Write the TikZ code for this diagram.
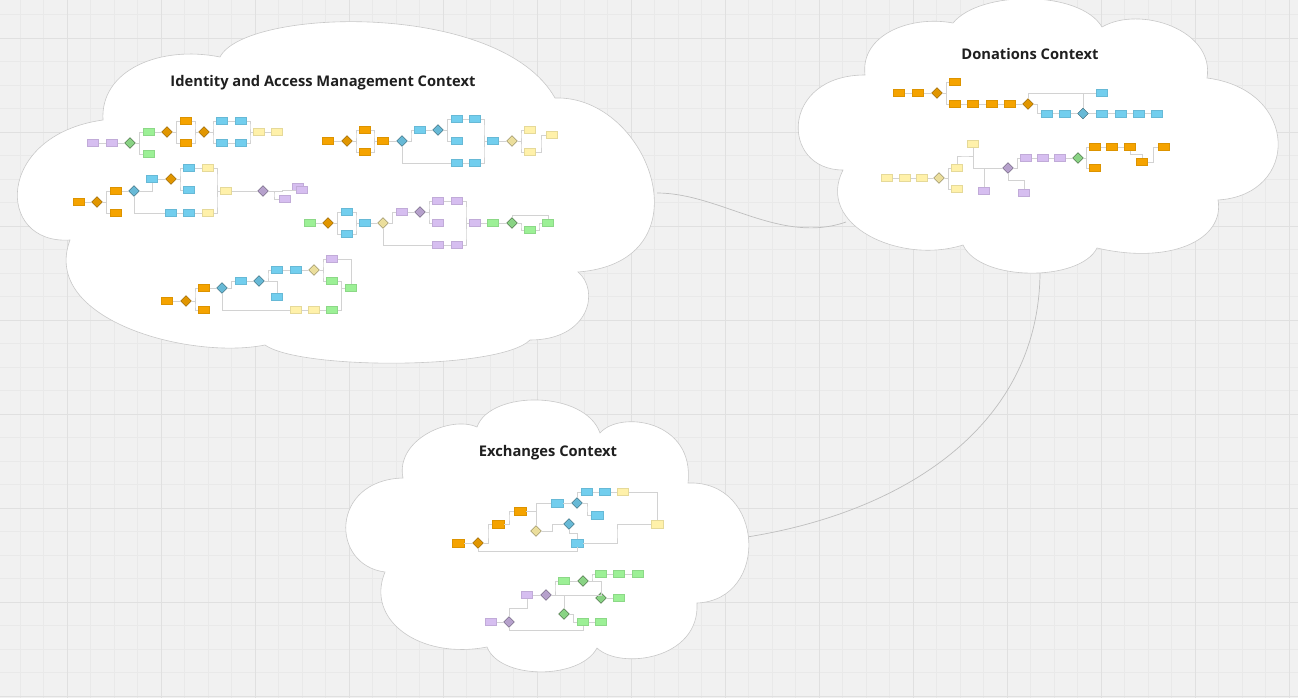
\documentclass[tikz,border=0pt]{standalone}
\usepackage{fontspec}
\setmainfont{Open Sans}
\usetikzlibrary{shapes.geometric,calc}
\definecolor{bgc}{RGB}{241,241,241}
\definecolor{minorc}{RGB}{233,233,233}
\definecolor{majorc}{RGB}{224,224,224}
\definecolor{cloudc}{RGB}{200,200,200}
\definecolor{linkc}{RGB}{190,190,190}
\definecolor{conc}{RGB}{210,210,210}
\definecolor{orgc}{RGB}{245,163,0}
\definecolor{bluc}{RGB}{114,206,238}
\definecolor{grnc}{RGB}{156,240,150}
\definecolor{purc}{RGB}{214,190,240}
\definecolor{yelc}{RGB}{255,241,170}
\tikzset{
box/.style={rectangle,minimum width=11pt,minimum height=7pt,inner sep=0pt,line width=0.3pt},
xbox/.style={minimum width=12pt,minimum height=8pt},
gate/.style={diamond,minimum size=11pt,inner sep=0pt,line width=0.4pt},
org/.style={box,fill=orgc,draw=orgc!90!black},
blu/.style={box,fill=bluc,draw=bluc!90!black},
grn/.style={box,fill=grnc,draw=grnc!90!black},
pur/.style={box,fill=purc,draw=purc!90!black},
yel/.style={box,fill=yelc,draw=yelc!90!black},
orgd/.style={gate,fill=orgc!92!black,draw=orgc!55!black},
blud/.style={gate,fill=bluc!90!black,draw=bluc!45!black},
grnd/.style={gate,fill=grnc!88!black,draw=grnc!35!black},
purd/.style={gate,fill=purc!85!black,draw=purc!45!black},
yeld/.style={gate,fill=yelc!92!black,draw=yelc!50!black},
con/.style={draw=conc,line width=0.7pt},
el/.style={to path={-| ($(\tikztostart)!0.5!(\tikztotarget)$) |- (\tikztotarget)}},
elv/.style={to path={|- ($(\tikztostart)!0.5!(\tikztotarget)$) -| (\tikztotarget)}},
ctxcloud/.style={draw=cloudc,fill=white,line width=0.6pt},
ctxtitle/.style={font=\bfseries\fontsize{14.7}{17}\selectfont,text=black!88,anchor=base},
}
\begin{document}
\begin{tikzpicture}[x=1pt,y=-1pt]
\useasboundingbox (0,0) rectangle (1298,698);
\fill[bgc] (0,0) rectangle (1298,698);
\foreach \x in {20,43.5,...,1298} \draw[minorc,line width=0.8pt] (\x,0) -- (\x,698);
\foreach \y in {14.8,38.3,...,698} \draw[minorc,line width=0.8pt] (0,\y) -- (1298,\y);
\foreach \x in {67,161,...,1298} \draw[majorc,line width=1pt] (\x,0) -- (\x,698);
\foreach \y in {38.3,132.3,...,698} \draw[majorc,line width=1pt] (0,\y) -- (1298,\y);

\coordinate (iamR) at (657,193);
\coordinate (donL) at (846,222);
\coordinate (donB) at (1040,271);
\coordinate (excR) at (747,537);
\draw[linkc,line width=0.7pt] (iamR) .. controls (720,193) and (780,245) .. (donL);
\draw[linkc,line width=0.7pt] (donB) .. controls (1040,425) and (905,512) .. (excR);

\draw[ctxcloud] (103,120) .. controls (100,70) and (160,45) .. (220,57)
 .. controls (245,8) and (500,0) .. (555,98)
 .. controls (650,95) and (710,262) .. (578,272)
 .. controls (600,290) and (590,340) .. (530,340)
 .. controls (500,370) and (300,370) .. (265,345)
 .. controls (190,360) and (40,320) .. (70,240)
 .. controls (-5,245) and (-5,135) .. (103,120) -- cycle;
\draw[ctxcloud] (865,75) .. controls (860,35) and (910,15) .. (953,23)
 .. controls (980,-10) and (1080,-10) .. (1102,27)
 .. controls (1140,5) and (1215,30) .. (1207,78)
 .. controls (1300,90) and (1300,195) .. (1218,200)
 .. controls (1225,240) and (1170,265) .. (1097,248)
 .. controls (1080,282) and (980,282) .. (963,245)
 .. controls (900,265) and (815,225) .. (843,170)
 .. controls (780,170) and (780,75) .. (865,75) -- cycle;
\draw[ctxcloud] (477,427) .. controls (490,390) and (585,390) .. (600,433)
 .. controls (620,410) and (695,420) .. (688,483)
 .. controls (765,480) and (770,600) .. (697,603)
 .. controls (700,660) and (620,670) .. (597,648)
 .. controls (580,680) and (500,680) .. (487,647)
 .. controls (420,660) and (365,620) .. (385,572)
 .. controls (330,565) and (330,480) .. (403,478)
 .. controls (395,440) and (450,415) .. (477,427) -- cycle;

\node[ctxtitle] (tiam) at (323,87) {Identity and Access Management Context};
\node[ctxtitle] (tdon) at (1030,60) {Donations Context};
\node[ctxtitle] (texc) at (548,456) {Exchanges Context};

\node[pur] (a1) at (93,143) {};
\node[pur] (a2) at (112,143) {};
\node[grnd] (a3) at (130,143) {};
\node[grn] (a4) at (149,132) {};
\node[grn] (a5) at (149,154) {};
\node[orgd] (a6) at (167,132) {};
\node[org] (a7) at (186,121) {};
\node[org] (a8) at (186,143) {};
\node[orgd] (a9) at (204,132) {};
\node[blu] (a10) at (222,121) {};
\node[blu] (a11) at (241,121) {};
\node[blu] (a12) at (222,143) {};
\node[blu] (a13) at (241,143) {};
\node[yel] (a14) at (259,132) {};
\node[yel] (a15) at (277,132) {};
\path[con] (a1) edge (a2) (a2) edge (a3) (a3) edge[el] (a4) (a3) edge[el] (a5) (a4) edge (a6)
 (a6) edge[el] (a7) (a6) edge[el] (a8) (a7) edge[el] (a9) (a8) edge[el] (a9)
 (a9) edge[el] (a10) (a9) edge[el] (a12) (a10) edge (a11) (a12) edge (a13)
 (a11) edge[el] (a14) (a13) edge[el] (a14) (a14) edge (a15);

\node[org] (b1) at (79,202) {};
\node[orgd] (b2) at (97,202) {};
\node[org] (b3) at (116,191) {};
\node[org] (b4) at (116,213) {};
\node[blud] (b5) at (134,191) {};
\node[blu] (b6) at (152,179) {};
\node[orgd] (b7) at (171,179) {};
\node[blu] (b8) at (189,168) {};
\node[blu] (b9) at (189,190) {};
\node[yel] (b10) at (208,168) {};
\node[yel] (b11) at (226,191) {};
\node[blu] (b12) at (171,213) {};
\node[blu] (b13) at (189,213) {};
\node[yel] (b14) at (208,213) {};
\node[purd] (b15) at (263,191) {};
\node[pur] (b16) at (285,199) {};
\node[pur] (b17) at (298,187) {};
\node[pur] (b18) at (302,190) {};
\path[con] (b1) edge (b2) (b2) edge[el] (b3) (b2) edge[el] (b4) (b3) edge (b5)
 (b6) edge (b7) (b7) edge[el] (b8) (b7) edge[el] (b9) (b8) edge (b10) (b10) edge[el] (b11)
 (b12) edge (b13) (b13) edge (b14) (b14) edge[el] (b11) (b11) edge (b15)
 (b15) edge[el] (b16) (b15) edge[el] (b18);
\draw[con] (b5) -| (b6);
\draw[con] (b5) |- (b12);

\node[org] (c1) at (328,141) {};
\node[orgd] (c2) at (347,141) {};
\node[org] (c3) at (365,130) {};
\node[org] (c4) at (365,152) {};
\node[org] (c5) at (383,141) {};
\node[blud] (c6) at (402,141) {};
\node[blu] (c7) at (420,130) {};
\node[blud] (c8) at (438,130) {};
\node[blu] (c9) at (457,119) {};
\node[blu] (c10) at (475,119) {};
\node[blu] (c11) at (457,141) {};
\node[blu] (c12) at (457,163) {};
\node[blu] (c13) at (475,163) {};
\node[blu] (c14) at (493,141) {};
\node[yeld] (c15) at (512,141) {};
\node[yel] (c16) at (530,130) {};
\node[yel] (c17) at (530,152) {};
\node[yel] (c18) at (552,135) {};
\path[con] (c1) edge (c2) (c2) edge[el] (c3) (c2) edge[el] (c4) (c3) edge[el] (c5) (c4) edge[el] (c5)
 (c5) edge (c6) (c6) edge[el] (c7) (c7) edge (c8) (c8) edge[el] (c9) (c8) edge[el] (c11)
 (c9) edge (c10) (c10) edge[el] (c14) (c12) edge (c13) (c13) edge[el] (c14)
 (c14) edge (c15) (c15) edge[el] (c16) (c15) edge[el] (c17) (c17) edge[el] (c18);
\draw[con] (c6) |- (c12);

\node[grn] (d1) at (310,223) {};
\node[orgd] (d2) at (328,223) {};
\node[blu] (d3) at (347,212) {};
\node[blu] (d4) at (347,234) {};
\node[blu] (d5) at (365,223) {};
\node[yeld] (d6) at (383,223) {};
\node[pur] (d7) at (402,212) {};
\node[purd] (d8) at (420,212) {};
\node[pur] (d9) at (438,201) {};
\node[pur] (d10) at (457,201) {};
\node[pur] (d11) at (438,223) {};
\node[pur] (d12) at (438,245) {};
\node[pur] (d13) at (457,245) {};
\node[pur] (d14) at (475,223) {};
\node[grn] (d15) at (493,223) {};
\node[grnd] (d16) at (512,223) {};
\node[grn] (d17) at (530,230) {};
\node[grn] (d18) at (548,223) {};
\path[con] (d1) edge (d2) (d2) edge[el] (d3) (d2) edge[el] (d4) (d3) edge[el] (d5) (d4) edge[el] (d5)
 (d5) edge (d6) (d6) edge[el] (d7) (d7) edge (d8) (d8) edge[el] (d9) (d8) edge[el] (d11)
 (d9) edge (d10) (d10) edge[el] (d14) (d12) edge (d13) (d13) edge[el] (d14)
 (d14) edge (d15) (d15) edge (d16) (d16) edge[el] (d17) (d17) edge[el] (d18);
\draw[con] (d6) |- (d12);
\draw[con] (d16.north) -- ++(0,-1.5) -| (d18);

\node[org] (e1) at (167,301) {};
\node[orgd] (e2) at (186,301) {};
\node[org] (e3) at (204,288) {};
\node[org] (e4) at (204,310) {};
\node[blud] (e5) at (222,288) {};
\node[blu] (e6) at (241,281) {};
\node[blud] (e7) at (259,281) {};
\node[blu] (e8) at (277,270) {};
\node[blu] (e9) at (296,270) {};
\node[yeld] (e10) at (314,270) {};
\node[pur] (e11) at (332,259) {};
\node[grn] (e12) at (332,281) {};
\node[grn] (e13) at (351,288) {};
\node[blu] (e14) at (277,297) {};
\node[yel] (e15) at (296,310) {};
\node[yel] (e16) at (314,310) {};
\node[grn] (e17) at (332,310) {};
\path[con] (e1) edge (e2) (e2) edge[el] (e3) (e2) edge[el] (e4) (e3) edge (e5) (e5) edge[el] (e6)
 (e6) edge (e7) (e7) edge[el] (e8) (e8) edge (e9) (e9) edge (e10) (e10) edge[el] (e11) (e10) edge[el] (e12)
 (e12) edge[el] (e13) (e17) edge[el] (e13) (e15) edge (e16) (e16) edge (e17);
\draw[con] (e7) -| (e14);
\draw[con] (e11) -| (e13);
\draw[con] (e5) |- (e15);

\node[org] (f1) at (899,93) {};
\node[org] (f2) at (918,93) {};
\node[orgd] (f3) at (937,93) {};
\node[org] (f4) at (955,82) {};
\node[org] (f5) at (955,104) {};
\node[org] (f6) at (973,104) {};
\node[org] (f7) at (992,104) {};
\node[org] (f8) at (1010,104) {};
\node[orgd] (f9) at (1028,104) {};
\node[blu] (f10) at (1102,93) {};
\node[blu] (f11) at (1047,113.5) {};
\node[blu] (f12) at (1065,113.5) {};
\node[blud] (f13) at (1083,113.5) {};
\node[blu] (f14) at (1102,113.5) {};
\node[blu] (f15) at (1121,113.5) {};
\node[blu] (f16) at (1139,113.5) {};
\node[blu] (f17) at (1157,113.5) {};
\path[con] (f1) edge (f2) (f2) edge (f3) (f3) edge[el] (f4) (f3) edge[el] (f5) (f5) edge (f6) (f6) edge (f7)
 (f7) edge (f8) (f8) edge (f9) (f9) edge[el] (f11) (f11) edge (f12) (f12) edge (f13) (f13) edge (f14)
 (f14) edge (f15) (f15) edge (f16) (f16) edge (f17);
\draw[con] (f9.north) |- (f10);
\draw[con] (f13.north) |- (f10);

\node[yel] (g1) at (887,178) {};
\node[yel] (g2) at (905,178) {};
\node[yel] (g3) at (922,178) {};
\node[yeld] (g4) at (939,178) {};
\node[yel] (g5) at (957,168) {};
\node[yel] (g6) at (957,189) {};
\node[yel] (g7) at (973,144) {};
\node[pur] (g8) at (984,191) {};
\node[purd] (g9) at (1008,168) {};
\node[pur] (g10) at (1024,193) {};
\node[pur] (g11) at (1026,158) {};
\node[pur] (g12) at (1043,158) {};
\node[pur] (g13) at (1060,158) {};
\node[grnd] (g14) at (1078,158) {};
\node[org] (g15) at (1095,147) {};
\node[org] (g16) at (1112,147) {};
\node[org] (g17) at (1130,147) {};
\node[org] (g18) at (1095,168) {};
\node[org] (g19) at (1142,162) {};
\node[org] (g20) at (1164,147) {};
\path[con] (g1) edge (g2) (g2) edge (g3) (g3) edge (g4) (g4) edge[el] (g5) (g4) edge[el] (g6)
 (g5) edge[elv] (g7) (g9) edge[el] (g11) (g9) edge[elv] (g10) (g11) edge (g12) (g12) edge (g13)
 (g13) edge (g14) (g14) edge[el] (g15) (g14) edge[el] (g18) (g15) edge (g16) (g16) edge (g17)
 (g17) edge[elv] (g19) (g19) edge[el] (g20);
\draw[con] (g7) |- (g9);
\draw[con] (g8.north) -- (g8.north |- g9);

\node[org,xbox] (h1) at (458,543) {};
\node[orgd] (h2) at (478,543) {};
\node[org,xbox] (h3) at (498,524) {};
\node[org,xbox] (h4) at (520,511) {};
\node[yeld] (h5) at (536,531) {};
\node[blu,xbox] (h6) at (557,503) {};
\node[blud] (h7) at (577,503) {};
\node[blu,xbox] (h8) at (597,515) {};
\node[blud] (h9) at (569,524) {};
\node[blu,xbox] (h10) at (577,543) {};
\node[blu] (h11) at (587,492) {};
\node[blu] (h12) at (605,492) {};
\node[yel] (h13) at (623,492) {};
\node[yel,xbox] (h14) at (657,524) {};
\path[con] (h1) edge (h2) (h2) edge[el] (h3) (h3) edge[el] (h4) (h5) edge[el] (h9) (h6) edge (h7)
 (h7) edge[el] (h8) (h11) edge (h12) (h12) edge (h13) (h9) edge[elv] (h10) (h10) edge[el] (h14);
\draw[con] (h4) -| (h5);
\draw[con] (h5.north) |- (h6);
\draw[con] (h7.north) |- (h11);
\draw[con] (h13) -| (h14);
\draw[con] (h2.south) -- ++(0,3) -| (h10.south);

\node[pur] (k1) at (491,622) {};
\node[purd] (k2) at (509,622) {};
\node[pur] (k3) at (527,595) {};
\node[purd] (k4) at (546,595) {};
\node[grn] (k5) at (564,581) {};
\node[grnd] (k6) at (583,581) {};
\node[grn] (k7) at (601,574) {};
\node[grn] (k8) at (619,574) {};
\node[grn] (k9) at (638,574) {};
\node[grnd] (k10) at (601,598) {};
\node[grn] (k11) at (619,598) {};
\node[grnd] (k12) at (564,614) {};
\node[grn] (k13) at (583,622) {};
\node[grn] (k14) at (601,622) {};
\path[con] (k1) edge (k2) (k2) edge[elv] (k3) (k3) edge (k4) (k4) edge[el] (k5) (k5) edge (k6)
 (k6) edge[el] (k7) (k7) edge (k8) (k8) edge (k9) (k10) edge (k11) (k12) edge[el] (k13) (k13) edge (k14);
\draw[con] (k4) -| (k10);
\draw[con] (k4) -| (k12);
\draw[con] (k6) -| (k10);
\draw[con] (k2.south) -- ++(0,3) -| (k13.south);
\end{tikzpicture}
\end{document}
